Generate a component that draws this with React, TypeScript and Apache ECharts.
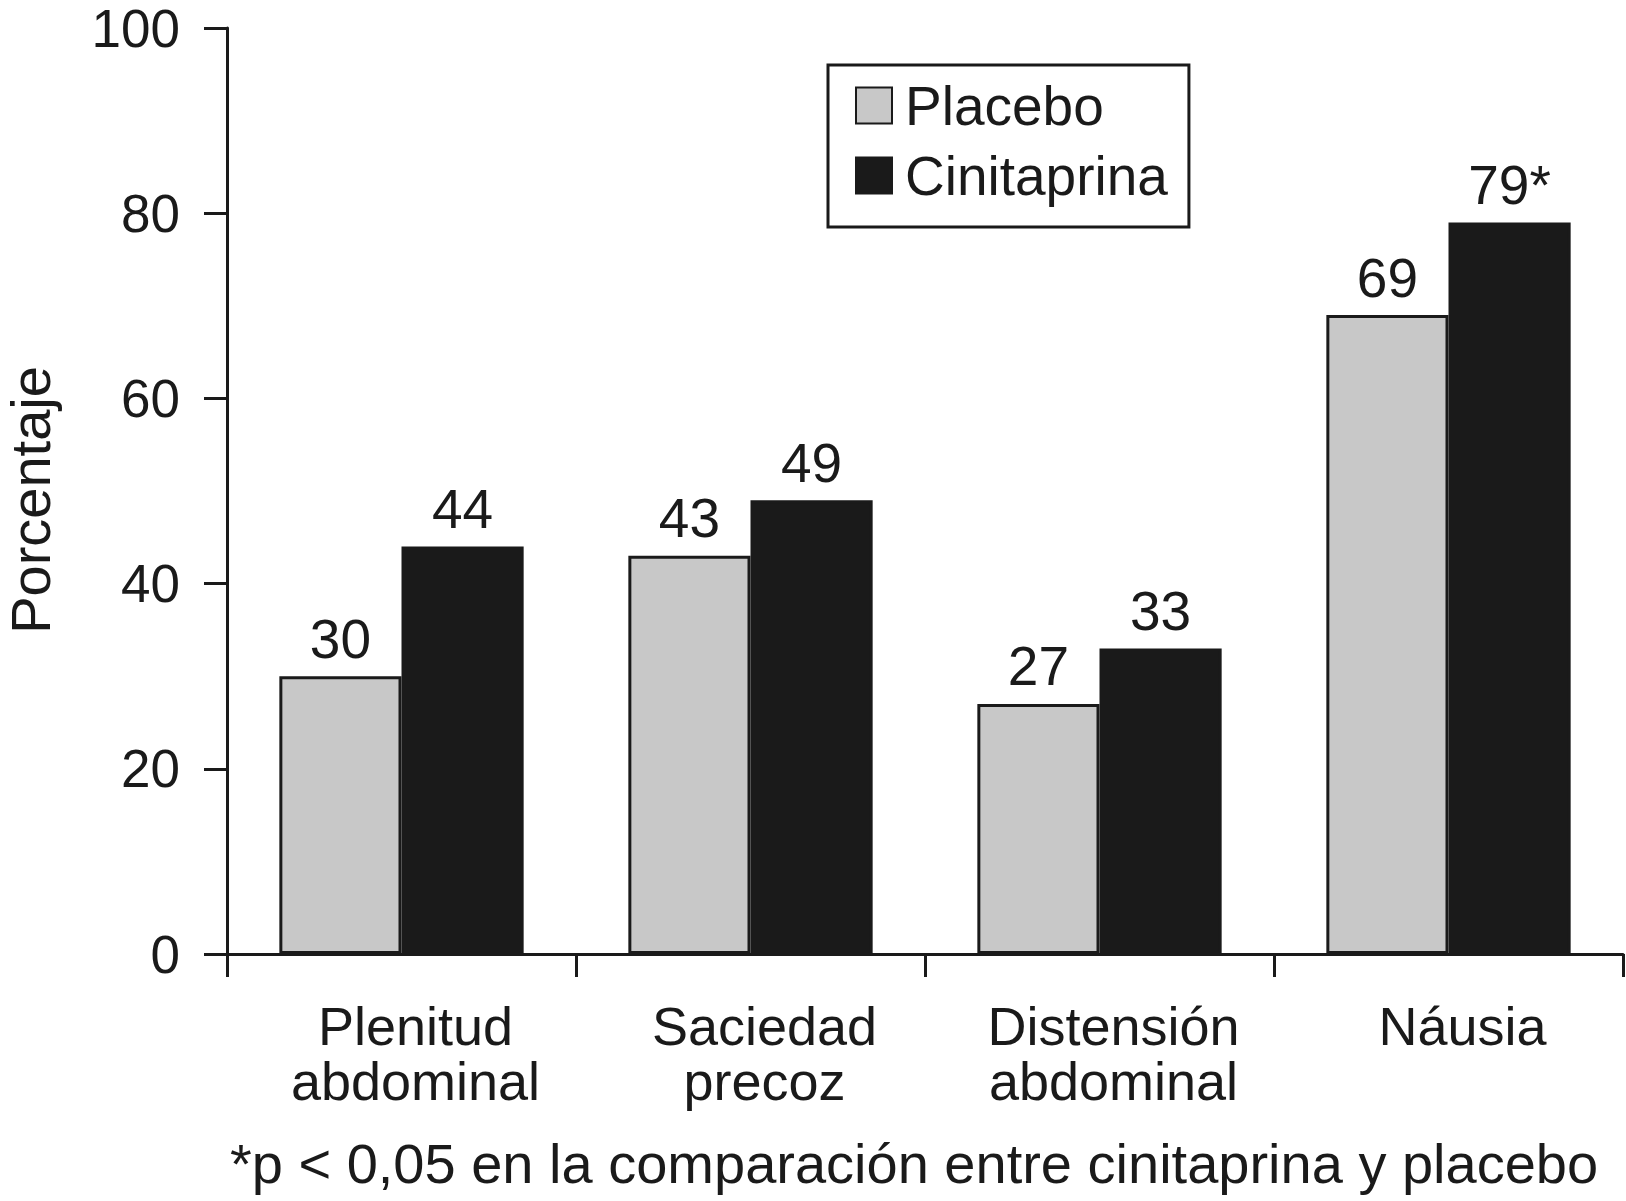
import React, { useEffect, useRef } from "react";
import * as echarts from "echarts";

const categories = ["Plenitud\nabdominal", "Saciedad\nprecoz", "Distensión\nabdominal", "Náusia"];
const seriesNames = ["Placebo", "Cinitaprina"];
const placebo = [30, 43, 27, 69];
const cinitaprina = [44, 49, 33, 79];
const cinitaprinaMarks = ["", "", "", "*"];
const yMin = 0;
const yMax = 100;
const yInterval = 20;
const yAxisName = "Porcentaje";
const footnote = "*p < 0,05 en la comparación entre cinitaprina y placebo";

const INK = "#1a1a1a";
const GREY = "#c8c8c8";
const FONT = "'Liberation Sans', Arial, Helvetica, sans-serif";

export default function App() {
  const ref = useRef<HTMLDivElement>(null);
  useEffect(() => {
    document.body.style.margin = "0";
    if (!ref.current) return;
    const chart = echarts.init(ref.current, undefined, { renderer: "svg" });
    chart.setOption({
      animation: false,
      backgroundColor: "#ffffff",
      textStyle: { fontFamily: FONT, color: INK },
      grid: { left: 227, right: 3, top: 28, bottom: 247, containLabel: false, outerBoundsMode: "none" },
      legend: {
        data: seriesNames,
        orient: "vertical",
        left: 828,
        top: 65,
        itemWidth: 36,
        itemHeight: 36,
        itemGap: 15,
        borderColor: INK,
        borderWidth: 3,
        padding: [13, 21, 24, 27],
        icon: "rect",
        textStyle: { fontSize: 55, lineHeight: 40, color: INK, fontFamily: FONT, padding: [0, 0, 0, 8] },
      },
      xAxis: {
        type: "category",
        data: categories,
        axisLine: { show: true, lineStyle: { color: INK, width: 3 } },
        axisTick: { show: true, length: 23, lineStyle: { color: INK, width: 3 } },
        axisLabel: {
          fontSize: 54,
          lineHeight: 55,
          color: INK,
          fontFamily: FONT,
          margin: 44,
          padding: [0, 0, 0, 28],
          interval: 0,
        },
        splitLine: { show: false },
      },
      yAxis: {
        type: "value",
        min: yMin,
        max: yMax,
        interval: yInterval,
        name: yAxisName,
        nameLocation: "middle",
        nameRotate: 90,
        nameGap: 169,
        nameTextStyle: { fontSize: 56, color: INK, fontFamily: FONT, padding: [0, 18, 0, 0] },
        axisLine: { show: true, lineStyle: { color: INK, width: 3 } },
        axisTick: { show: true, length: 23, lineStyle: { color: INK, width: 3 } },
        axisLabel: { fontSize: 53, color: INK, fontFamily: FONT, margin: 47 },
        splitLine: { show: false },
      },
      series: [
        {
          name: seriesNames[0],
          type: "bar",
          data: placebo,
          barGap: "0%",
          barCategoryGap: "30%",
          itemStyle: { color: GREY, borderColor: INK, borderWidth: 3 },
          label: {
            show: true,
            position: "top",
            distance: 10,
            fontSize: 55,
            color: INK,
            fontFamily: FONT,
          },
        },
        {
          name: seriesNames[1],
          type: "bar",
          data: cinitaprina,
          barGap: "0%",
          barCategoryGap: "30%",
          itemStyle: { color: INK, borderColor: INK, borderWidth: 3 },
          label: {
            show: true,
            position: "top",
            distance: 10,
            fontSize: 55,
            color: INK,
            fontFamily: FONT,
            formatter: (p: any) => `${p.value}${cinitaprinaMarks[p.dataIndex]}`,
          },
        },
      ],
      graphic: [
        {
          type: "text",
          x: 914,
          y: 1163,
          style: {
            text: footnote,
            fontSize: 56,
            fill: INK,
            fontFamily: FONT,
            align: "center",
            verticalAlign: "middle",
          },
        },
      ],
    });
    return () => chart.dispose();
  }, []);
  return <div ref={ref} style={{ width: 1626, height: 1201 }} />;
}
